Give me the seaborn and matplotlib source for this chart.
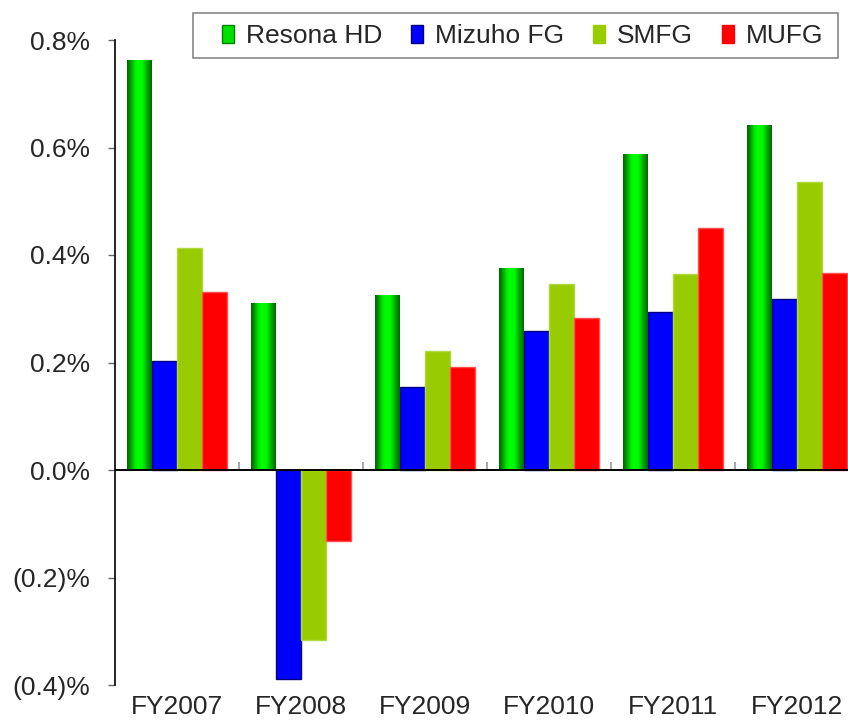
import numpy as np
import pandas as pd
import matplotlib
matplotlib.use("Agg")
import matplotlib.pyplot as plt
import seaborn as sns
from matplotlib.colors import LinearSegmentedColormap
from matplotlib.ticker import FuncFormatter, FixedLocator
from matplotlib.patches import Patch, Rectangle

years = ["FY2007", "FY2008", "FY2009", "FY2010", "FY2011", "FY2012"]
banks = ["Resona HD", "Mizuho FG", "SMFG", "MUFG"]
resona = [0.762, 0.311, 0.326, 0.376, 0.588, 0.641]
mizuho = [0.203, -0.389, 0.155, 0.259, 0.294, 0.318]
smfg = [0.413, -0.317, 0.222, 0.346, 0.365, 0.536]
mufg = [0.331, -0.132, 0.192, 0.283, 0.451, 0.367]
yticks = [-0.4, -0.2, 0.0, 0.2, 0.4, 0.6, 0.8]

colors = {"Resona HD": "#00E000", "Mizuho FG": "#0000FF", "SMFG": "#99CC00", "MUFG": "#FF0000"}
edges = {"Resona HD": "#006600", "Mizuho FG": "#000080", "SMFG": "#B0D840", "MUFG": "#FF5050"}

rows = []
for b, vals in zip(banks, [resona, mizuho, smfg, mufg]):
    for y, v in zip(years, vals):
        rows.append({"year": y, "bank": b, "value": v})
df = pd.DataFrame(rows)

sns.set_style("white")
plt.rcParams["font.family"] = ["Liberation Sans", "DejaVu Sans"]

fig = plt.figure(figsize=(8.48, 7.21), dpi=100)
ax = fig.add_axes([115 / 848, 36 / 721, 744 / 848, 645 / 721])

sns.barplot(data=df, x="year", y="value", hue="bank", order=years, hue_order=banks,
            palette=colors, width=0.8, gap=0, ax=ax, legend=False, saturation=1,
            linewidth=1.0, edgecolor="none", errorbar=None)

for container, b in zip(ax.containers, banks):
    for p in container:
        p.set_edgecolor(edges[b])
        p.set_linewidth(1.0)

# gradient fill for Resona bars
gcmap = LinearSegmentedColormap.from_list(
    "g", [(0.0, "#006800"), (0.1, "#008a00"), (0.3, "#00e800"), (0.42, "#00FF00"),
          (0.62, "#00F800"), (0.82, "#00a800"), (1.0, "#006800")])
grad = np.linspace(0, 1, 64).reshape(1, -1)
for p in ax.containers[0]:
    x0 = p.get_x(); w = p.get_width(); h = p.get_height(); y0 = p.get_y()
    im = ax.imshow(grad, extent=[x0, x0 + w, min(y0, y0 + h), max(y0, y0 + h)],
                   aspect="auto", cmap=gcmap, zorder=p.get_zorder() + 0.1)
    im.set_clip_path(p)
    p.set_facecolor("none")
    p.set_edgecolor("none")

ax.set_xlim(-0.5, 5.5)
ax.set_ylim(-0.4, 0.8)
ax.set_xlabel("")
ax.set_ylabel("")

ax.axhline(0, color="black", lw=1.4, zorder=5)

ax.yaxis.set_major_locator(FixedLocator(yticks))
def fmt(v, pos):
    if v < -1e-9:
        return f"({abs(v):.1f})%"
    return f"{v:.1f}%"
ax.yaxis.set_major_formatter(FuncFormatter(fmt))

for s in ["top", "right", "bottom"]:
    ax.spines[s].set_visible(False)
ax.spines["left"].set_color("black")
ax.spines["left"].set_linewidth(1.2)

ax.tick_params(axis="y", which="major", left=True, length=5, width=1, color="#666666",
               labelsize=19, pad=13, direction="out")
ax.tick_params(axis="x", which="major", bottom=False, length=0, labelsize=19, pad=7)

sec = ax.secondary_xaxis(1 / 3)
sec.set_xticks([0.5, 1.5, 2.5, 3.5, 4.5])
sec.set_xticklabels([])
sec.tick_params(direction="in", length=6, width=1.2, color="#999999")
sec.spines["bottom"].set_visible(False)

# legend frame
fig.patches.append(Rectangle((193 / 848, 1 - 58 / 721), 645 / 848, 45 / 721,
                             transform=fig.transFigure, fill=False,
                             edgecolor="#888888", linewidth=1.2, zorder=10))

handles = [Patch(facecolor="#00E000", edgecolor="#008000", label="Resona HD"),
           Patch(facecolor="#0000FF", edgecolor="#000080", label="Mizuho FG"),
           Patch(facecolor="#99CC00", edgecolor="#99CC00", label="SMFG"),
           Patch(facecolor="#FF0000", edgecolor="#FF0000", label="MUFG")]
leg = fig.legend(handles=handles, loc="center left", bbox_to_anchor=(222 / 848, 1 - 36 / 721),
                 ncol=4, frameon=False, fontsize=19,
                 handlelength=0.45, handleheight=0.7, handletextpad=0.45, columnspacing=1.1,
                 borderpad=0, borderaxespad=0)

fig.savefig("out.png", dpi=100)
